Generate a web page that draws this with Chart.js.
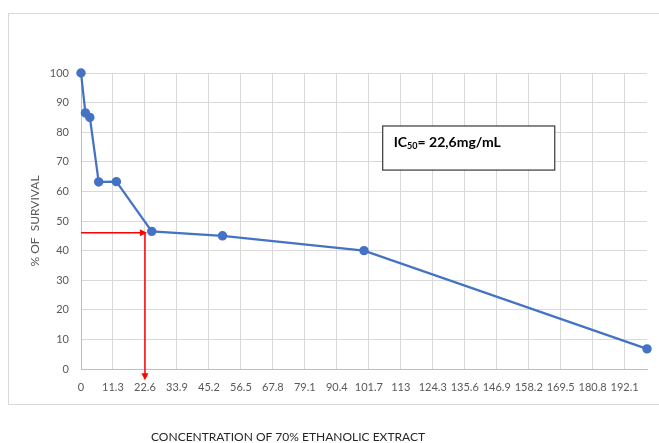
<!DOCTYPE html>
<html><head><meta charset="utf-8">
<script src="https://cdn.jsdelivr.net/npm/chart.js@4/dist/chart.umd.min.js"></script>
<style>
html,body{margin:0;padding:0;background:#fff;}
#wrap{position:relative;width:659px;height:443px;overflow:hidden;}
#frame{position:absolute;left:8px;top:13px;width:700px;height:390px;border:1px solid #d9d9d9;}
canvas{position:absolute;left:0;top:0;}
</style></head><body>
<div id="wrap"><div id="frame"></div><canvas id="c" width="659" height="443"></canvas></div>
<script>
// ---- data ----
const concentrations = [0, 1.5625, 3.125, 6.25, 12.5, 25, 50, 100, 200];
const survival = [100, 86.5, 85, 63.2, 63.3, 46.5, 45, 40, 6.8];
const xTickValues = [0, 11.3, 22.6, 33.9, 45.2, 56.5, 67.8, 79.1, 90.4, 101.7, 113, 124.3, 135.6, 146.9, 158.2, 169.5, 180.8, 192.1];
const xTickLabels = ['0','11.3','22.6','33.9','45.2','56.5','67.8','79.1','90.4','101.7','113','124.3','135.6','146.9','158.2','169.5','180.8','192.1'];
const yTickValues = [0, 10, 20, 30, 40, 50, 60, 70, 80, 90, 100];
const ic50Value = 22.6;
const ic50Survival = 46;
const ic50Text = ['IC', '50', '= 22,6mg/mL'];
const xTitle = 'CONCENTRATION OF 70% ETHANOLIC EXTRACT';
const yTitle = '% OF  SURVIVAL';

// ---- annotation layout (data units) ----
const arrowBottomValue = -3.8;
const boxArea = {x0: 106.6, x1: 167.4, y0: 67.2, y1: 82.1};

const FONT = 'Lato, "Open Sans", sans-serif';

const annot = {
  id: 'annot',
  afterDraw(chart) {
    const {ctx, scales: {x, y}} = chart;
    ctx.save();
    // red arrows
    ctx.strokeStyle = '#ff0000'; ctx.fillStyle = '#ff0000'; ctx.lineWidth = 1.5;
    const hx0 = x.getPixelForValue(0), vx = x.getPixelForValue(ic50Value), hy = y.getPixelForValue(ic50Survival);
    const tipX = vx + 2;
    ctx.beginPath(); ctx.moveTo(hx0, hy); ctx.lineTo(tipX - 6, hy); ctx.stroke();
    ctx.beginPath(); ctx.moveTo(tipX, hy); ctx.lineTo(tipX - 7, hy - 3.5); ctx.lineTo(tipX - 7, hy + 3.5); ctx.closePath(); ctx.fill();
    const vb = y.getPixelForValue(arrowBottomValue);
    ctx.beginPath(); ctx.moveTo(vx, hy - 0.5); ctx.lineTo(vx, vb - 6); ctx.stroke();
    ctx.beginPath(); ctx.moveTo(vx, vb); ctx.lineTo(vx - 3.5, vb - 7); ctx.lineTo(vx + 3.5, vb - 7); ctx.closePath(); ctx.fill();

    // IC50 box
    const bx0 = x.getPixelForValue(boxArea.x0), bx1 = x.getPixelForValue(boxArea.x1);
    const by0 = y.getPixelForValue(boxArea.y1), by1 = y.getPixelForValue(boxArea.y0);
    ctx.fillStyle = '#ffffff';
    ctx.fillRect(bx0, by0, bx1 - bx0, by1 - by0);
    ctx.strokeStyle = '#404040'; ctx.lineWidth = 1.25;
    ctx.strokeRect(bx0, by0, bx1 - bx0, by1 - by0);
    ctx.fillStyle = '#000000';
    ctx.textBaseline = 'alphabetic'; ctx.textAlign = 'left';
    let tx = bx0 + 11; const base = by0 + 21;
    ctx.font = 'bold 14px ' + FONT;
    ctx.fillText(ic50Text[0], tx, base); tx += ctx.measureText(ic50Text[0]).width;
    ctx.font = 'bold 9px ' + FONT;
    ctx.fillText(ic50Text[1], tx, base + 2); tx += ctx.measureText(ic50Text[1]).width;
    ctx.font = 'bold 14px ' + FONT;
    ctx.fillText(ic50Text[2], tx, base);

    // x-axis title
    ctx.font = '12px ' + FONT; ctx.fillStyle = '#262626';
    ctx.textAlign = 'center'; ctx.textBaseline = 'middle';
    ctx.fillText(xTitle, 288, 437);
    ctx.restore();
  }
};

new Chart(document.getElementById('c'), {
  type: 'scatter',
  data: {
    datasets: [{
      data: concentrations.map((c, i) => ({x: c, y: survival[i]})),
      showLine: true,
      borderColor: '#4472C4', backgroundColor: '#4472C4',
      borderWidth: 2.25, pointRadius: 3.6, pointHoverRadius: 3.6,
      tension: 0, clip: false
    }]
  },
  options: {
    responsive: false, animation: false,
    layout: {padding: {left: 0, right: 12, top: 73, bottom: 0}},
    plugins: {legend: {display: false}, tooltip: {enabled: false}},
    scales: {
      x: {
        type: 'linear', min: 0, max: 200,
        afterBuildTicks: s => { s.ticks = xTickValues.map(v => ({value: v})); },
        ticks: {autoSkip: false, maxRotation: 0, padding: 12, color: '#595959',
          font: {family: FONT, size: 11}, callback: (v, i) => xTickLabels[i]},
        grid: {color: '#d9d9d9', drawTicks: false},
        border: {color: '#bfbfbf', width: 1},
        afterFit: s => { s.height = 74; }
      },
      y: {
        min: 0, max: 100,
        afterBuildTicks: s => { s.ticks = yTickValues.map(v => ({value: v})); },
        ticks: {padding: 12, color: '#595959', font: {family: FONT, size: 11}},
        grid: {color: '#d9d9d9', drawTicks: false},
        border: {color: '#bfbfbf', width: 1},
        title: {display: true, text: yTitle, color: '#595959',
          font: {family: FONT, size: 12}, padding: {top: 28, bottom: 0}},
        afterFit: s => { s.width = 81; }
      }
    }
  },
  plugins: [annot]
});
</script>
</body></html>
